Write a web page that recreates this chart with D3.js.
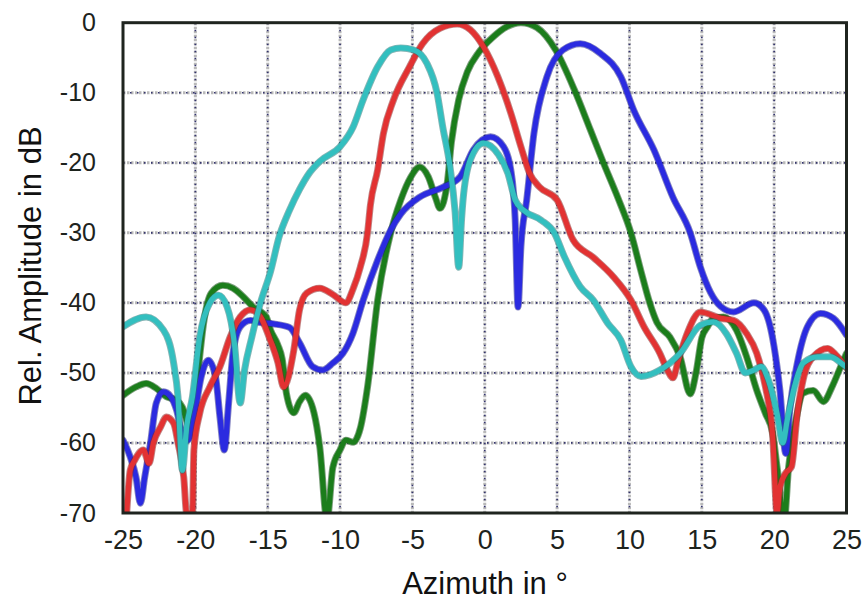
<!DOCTYPE html>
<html><head><meta charset="utf-8">
<script src="https://cdn.jsdelivr.net/npm/d3@7/dist/d3.min.js"></script>
<style>body{margin:0;background:#fff}svg{display:block}</style>
</head><body><svg id="c" width="867" height="601"></svg>
<script>
const xTicks=[-25,-20,-15,-10,-5,0,5,10,15,20,25];
const yTicks=[0,-10,-20,-30,-40,-50,-60,-70];
const xTitle="Azimuth in °";
const yTitle="Rel. Amplitude in dB";

const blue=[[-25,-59.6],[-24.5,-62],[-24.1,-64.9],[-23.8,-68.6],[-23.5,-64.9],[-23.1,-60],[-22.7,-54.3],[-22.2,-52.7],[-21.7,-53.4],[-21.3,-55.3],[-20.9,-58.7],[-20.5,-59.6],[-20,-55.3],[-19.6,-50.6],[-19.1,-48.2],[-18.6,-50.6],[-18.3,-56.3],[-18,-61],[-17.7,-54.3],[-17.4,-47.2],[-16.9,-43.4],[-16.2,-42.5],[-15.5,-42.8],[-14.6,-43],[-13.5,-43.5],[-12.8,-45.7],[-11.9,-49.1],[-11.2,-49.6],[-10.5,-48.6],[-9.8,-47.2],[-9.1,-44.3],[-8.4,-39.6],[-7.4,-33.9],[-6.5,-29.6],[-5.8,-27.3],[-4.5,-24.9],[-2.9,-23.5],[-1.7,-22],[-0.8,-18.2],[0.4,-16.3],[1.3,-17.7],[1.8,-21],[2.1,-28],[2.3,-40.6],[2.5,-32],[2.9,-25.3],[3.4,-15.8],[4.3,-7.7],[5.4,-3.9],[6.6,-3],[8,-4.4],[9.4,-7.7],[10.3,-12.5],[11.7,-18.2],[13,-24.9],[14.2,-30],[14.9,-34.9],[15.6,-38.5],[16.3,-40.5],[17.2,-41.3],[18.6,-40],[19.3,-41],[20,-46.3],[20.4,-52.5],[20.8,-61.5],[21.1,-54.9],[21.6,-48.6],[22.3,-43.4],[23.2,-41.5],[24.1,-42.2],[25,-44.6]];
const red=[[-24.8,-72],[-24.5,-63.9],[-24.2,-62.5],[-23.6,-61],[-23.2,-62.9],[-22.9,-60],[-22.4,-57.7],[-22,-56.3],[-21.5,-57.2],[-21.2,-60],[-20.8,-64.9],[-20.6,-70],[-20.2,-70],[-20.1,-61],[-19.7,-55.8],[-19,-52],[-18.3,-49.1],[-17.6,-44.9],[-16.9,-42],[-16.2,-41],[-15.5,-42],[-14.9,-44.9],[-14.3,-48.5],[-13.9,-52],[-13.2,-46.8],[-12.8,-41],[-12.3,-38.6],[-11.4,-37.9],[-10.5,-38.8],[-9.6,-40],[-9.1,-38],[-8.6,-34.9],[-8.1,-30],[-7.9,-26],[-7.4,-21],[-7,-15.8],[-6.3,-11],[-5.2,-6.3],[-4.3,-3],[-3.1,-0.8],[-1.9,-0.2],[-1,-1],[-0.1,-3.4],[0.9,-7.7],[1.8,-12.9],[2.5,-17.7],[3.1,-21.5],[3.8,-23.5],[5,-25.3],[6.1,-31],[7.5,-33.5],[8.9,-36.3],[10.1,-39.6],[11,-43.4],[12.1,-47.2],[12.6,-49.5],[13,-50.7],[13.4,-48],[14,-44.3],[14.9,-41.3],[16.3,-42.2],[17.2,-42.5],[18.1,-44.4],[18.8,-47.2],[19.4,-52],[19.9,-59.1],[20.2,-70],[20.4,-66.3],[20.8,-64.3],[21.2,-63.4],[21.6,-55.8],[22,-51],[22.7,-47.7],[23.7,-46.5],[24.3,-47.5],[25,-49.3]];
const green=[[-25,-53.2],[-24.1,-52],[-23.4,-51.5],[-22.7,-52.2],[-22,-53.4],[-21.3,-53.9],[-20.9,-54.9],[-20.4,-57.7],[-20.1,-55.8],[-19.8,-49.6],[-19.4,-42.5],[-18.9,-38.6],[-18.1,-37.5],[-17.4,-37.9],[-16.7,-39.1],[-16,-40.6],[-15.1,-42],[-14.8,-43.9],[-14.3,-46],[-14,-48],[-13.7,-53],[-13.2,-55.7],[-12.8,-54.1],[-12.4,-53.2],[-11.8,-55.7],[-11.4,-60.6],[-10.9,-71],[-10.5,-63.5],[-10,-61],[-9.6,-59.6],[-9.1,-59.9],[-8.6,-57.9],[-8.1,-52],[-7.4,-39.6],[-6.5,-30],[-5.8,-25.3],[-5.1,-22],[-4.5,-20.6],[-3.9,-22],[-3.4,-25],[-3.1,-26.5],[-2.6,-23],[-2.3,-17],[-1.8,-11],[-1.2,-7],[-0.4,-4.2],[0.6,-2],[1.5,-0.6],[2.5,0],[3.6,-0.7],[4.9,-3.9],[6.2,-9.6],[7.3,-15.3],[8.2,-20],[9.2,-25],[10.1,-30],[10.8,-35.5],[11.4,-40],[11.9,-42.8],[12.8,-44.9],[13.5,-47.7],[14.2,-53],[14.6,-50],[15,-45],[15.4,-43.4],[15.8,-42.2],[16.5,-42],[17.4,-43.9],[18.1,-47.7],[18.8,-52.5],[19.4,-55.8],[19.9,-58.6],[20.2,-63.4],[20.7,-71],[21,-63.4],[21.5,-56.8],[22,-52.9],[22.7,-52.5],[23.4,-54.1],[24,-52],[24.6,-49.1],[25,-47.2]];
const cyan=[[-25,-43.4],[-23.4,-42],[-22.2,-43.9],[-21.5,-48.6],[-21.2,-53.4],[-20.9,-63.9],[-20.6,-57.7],[-20.2,-53.4],[-19.7,-44.9],[-19,-40],[-18.4,-38.9],[-17.8,-40.6],[-17.3,-45.8],[-16.9,-54.3],[-16.6,-49.6],[-16.1,-44.9],[-15.5,-40],[-14.8,-35.5],[-14.2,-30.5],[-13.5,-26.8],[-12.8,-23.8],[-12.1,-21.4],[-11.4,-19.8],[-10,-17.7],[-9.1,-14.9],[-8.4,-11],[-7.4,-6.3],[-6.5,-3.9],[-5.8,-3.6],[-4.9,-3.9],[-4,-5.8],[-3.3,-10],[-2.9,-14.9],[-2.4,-20.6],[-2.05,-27],[-1.8,-34.9],[-1.6,-28],[-1.5,-25.3],[-1,-19.6],[-0.1,-17.2],[0.9,-18.7],[1.6,-21.5],[2.1,-25.3],[2.7,-26.8],[3.9,-28.2],[4.8,-30],[5.5,-33.4],[6.6,-37.7],[7.5,-39.6],[8.5,-42.9],[9.4,-45.3],[10.1,-49.1],[10.8,-50.5],[12.1,-49.6],[13.5,-47.2],[14.9,-43.2],[15.8,-42.7],[16.7,-44.4],[17.4,-47.2],[18,-50],[18.6,-49.6],[19.1,-49.1],[19.6,-51],[20.2,-55.8],[20.6,-60],[20.9,-56.8],[21.4,-52],[22,-48.6],[23,-47.7],[23.9,-47.7],[24.8,-48.9],[25,-49.2]];

const seriesList=[
  {data:green,color:"#1b7d1b"},
  {data:blue,color:"#2b2be0"},
  {data:red,color:"#e23232"},
  {data:cyan,color:"#33bfbf"}
];

const W=867,H=601;
const m={l:123,r:20.5,t:22.7,b:88};
const svg=d3.select("#c");
const x=d3.scaleLinear().domain([-25,25]).range([m.l,W-m.r]);
const y=d3.scaleLinear().domain([-70,0]).range([H-m.b,m.t]);

svg.append("defs").append("clipPath").attr("id","clip").append("rect")
  .attr("x",m.l).attr("y",m.t).attr("width",W-m.l-m.r).attr("height",H-m.t-m.b);

// grid
const grid=svg.append("g");
const gx=xTicks.slice(1,-1), gy=yTicks.slice(1,-1);
function gridLines(sel){
  sel.selectAll(".vx").data(gx).join("line").attr("class","vx")
    .attr("x1",d=>x(d)).attr("x2",d=>x(d)).attr("y1",y(0)).attr("y2",y(-70));
  sel.selectAll(".hy").data(gy).join("line").attr("class","hy")
    .attr("y1",d=>y(d)).attr("y2",d=>y(d)).attr("x1",x(-25)).attr("x2",x(25));
}
grid.append("g").attr("stroke","#b9b9b9").attr("stroke-width",3).attr("stroke-dasharray","2.5,1.5").call(gridLines);
grid.append("g").attr("stroke","#34346e").attr("stroke-width",1.7).attr("stroke-dasharray","1.5,5.5").call(gridLines);

// curves
const line=d3.line().x(d=>x(d[0])).y(d=>y(d[1])).curve(d3.curveMonotoneX);
const cg=svg.append("g").attr("clip-path","url(#clip)");
seriesList.forEach(s=>{
  cg.append("path").attr("d",line(s.data)).attr("fill","none")
    .attr("stroke",d3.color(s.color).darker(1.3)).attr("stroke-opacity",0.55).attr("stroke-width",7)
    .attr("stroke-linejoin","round").attr("stroke-linecap","round");
  cg.append("path").attr("d",line(s.data)).attr("fill","none")
    .attr("stroke",s.color).attr("stroke-width",5.2)
    .attr("stroke-linejoin","round").attr("stroke-linecap","round");
});

// frame
svg.append("rect").attr("x",m.l).attr("y",m.t).attr("width",W-m.l-m.r).attr("height",H-m.t-m.b)
  .attr("fill","none").attr("stroke","#1f241f").attr("stroke-width",3);

// axes (tick labels)
const font="Liberation Sans, Arial, sans-serif";
const xa=svg.append("g").attr("transform",`translate(0,${H-m.b})`)
  .call(d3.axisBottom(x).tickValues(xTicks).tickSize(0).tickPadding(17).tickFormat(d=>String(d)));
xa.select(".domain").remove();
xa.selectAll("text").attr("font-family",font).attr("font-size",27).attr("fill","#1d231d");
const ya=svg.append("g").attr("transform",`translate(${m.l},0)`)
  .call(d3.axisLeft(y).tickValues(yTicks).tickSize(0).tickPadding(27).tickFormat(d=>String(d)));
ya.select(".domain").remove();
ya.selectAll("text").attr("font-family",font).attr("font-size",25).attr("fill","#1d231d");

svg.append("text").attr("x",485).attr("y",594).attr("text-anchor","middle")
  .attr("font-family",font).attr("font-size",31).attr("fill","#111").text(xTitle);
svg.append("text").attr("transform","translate(41,266) rotate(-90)").attr("text-anchor","middle")
  .attr("font-family",font).attr("font-size",31).attr("fill","#111").text(yTitle);
</script></body></html>
